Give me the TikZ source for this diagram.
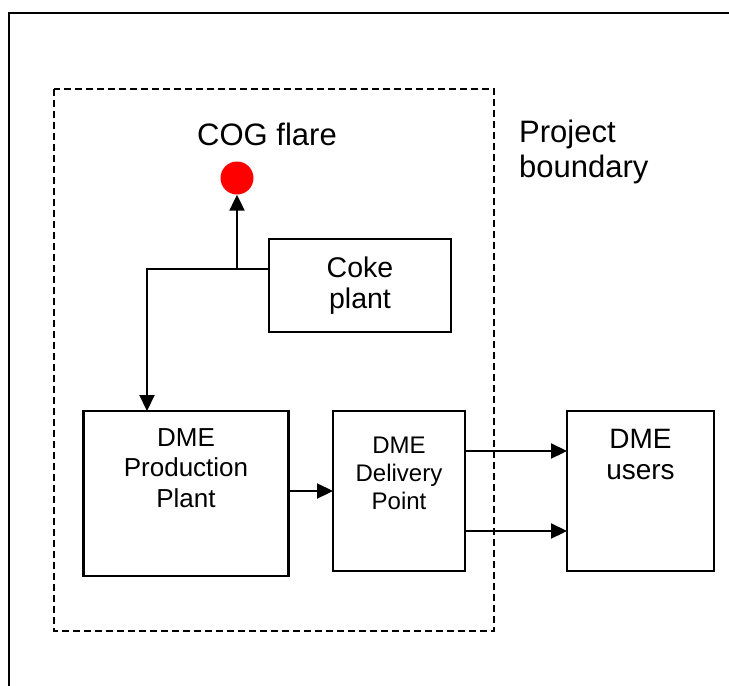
\documentclass[tikz,border=0pt]{standalone}
\usepackage{fontspec}
\setmainfont{Liberation Sans}
\usetikzlibrary{arrows.meta}

\begin{document}
\begin{tikzpicture}[x=1pt, y=-1pt,
    box/.style={draw, line width=2.2, inner sep=0, outer sep=0},
    flow/.style={line width=2.2, -{Triangle[length=16pt, width=15pt]}},
    txt/.style={inner sep=0, align=center}]
      \useasboundingbox (0,0) rectangle (729,686);
      \draw[line width=2.2] (9,686) -- (9,13) -- (729,13);
      \draw[line width=2.2, dash pattern=on 7pt off 4pt] (54,89) rectangle (494,631);

      \node[fill=red, circle, inner sep=0, minimum size=33] (flare) at (237,178) {};
      \node[txt, anchor=base, font=\fontsize{31}{34}\selectfont] (flarelabel) at (267,145) {COG flare};
      \node[txt, anchor=north west, align=left, font=\fontsize{31}{35}\selectfont] (boundary) at (519,120) {Project\\boundary};

      \node[box, minimum width=182, minimum height=93, align=center, font=\fontsize{28.5}{31}\selectfont] (coke) at (360,285.5) {Coke\\plant};
      \node[box, minimum width=205, minimum height=165] (prod) at (186,493.5) {};
      \node[box, minimum width=132, minimum height=160] (deliv) at (399,491) {};
      \node[box, minimum width=147, minimum height=160] (users) at (640.5,491) {};

      \node[txt, anchor=north, font=\fontsize{26}{30.5}\selectfont] at ([yshift=-17pt]prod.north) {DME\\Production\\Plant};
      \node[txt, anchor=north, font=\fontsize{24}{28}\selectfont] at ([yshift=-26pt]deliv.north) {DME\\Delivery\\Point};
      \node[txt, anchor=north, font=\fontsize{28}{31}\selectfont] at ([yshift=-18pt]users.north) {DME\\users};

      \coordinate (split) at ([yshift=16.5pt]coke.west);
      \draw[flow] (split) -| ([xshift=-39pt]prod.north);
      \draw[flow] (flare |- split) -- (flare.south);
      \draw[flow] (prod.east |- deliv.west) -- (deliv.west);
      \draw[flow] ([yshift=40pt]deliv.east) -- ([yshift=40pt]users.west);
      \draw[flow] ([yshift=-40pt]deliv.east) -- ([yshift=-40pt]users.west);
\end{tikzpicture}
\end{document}
